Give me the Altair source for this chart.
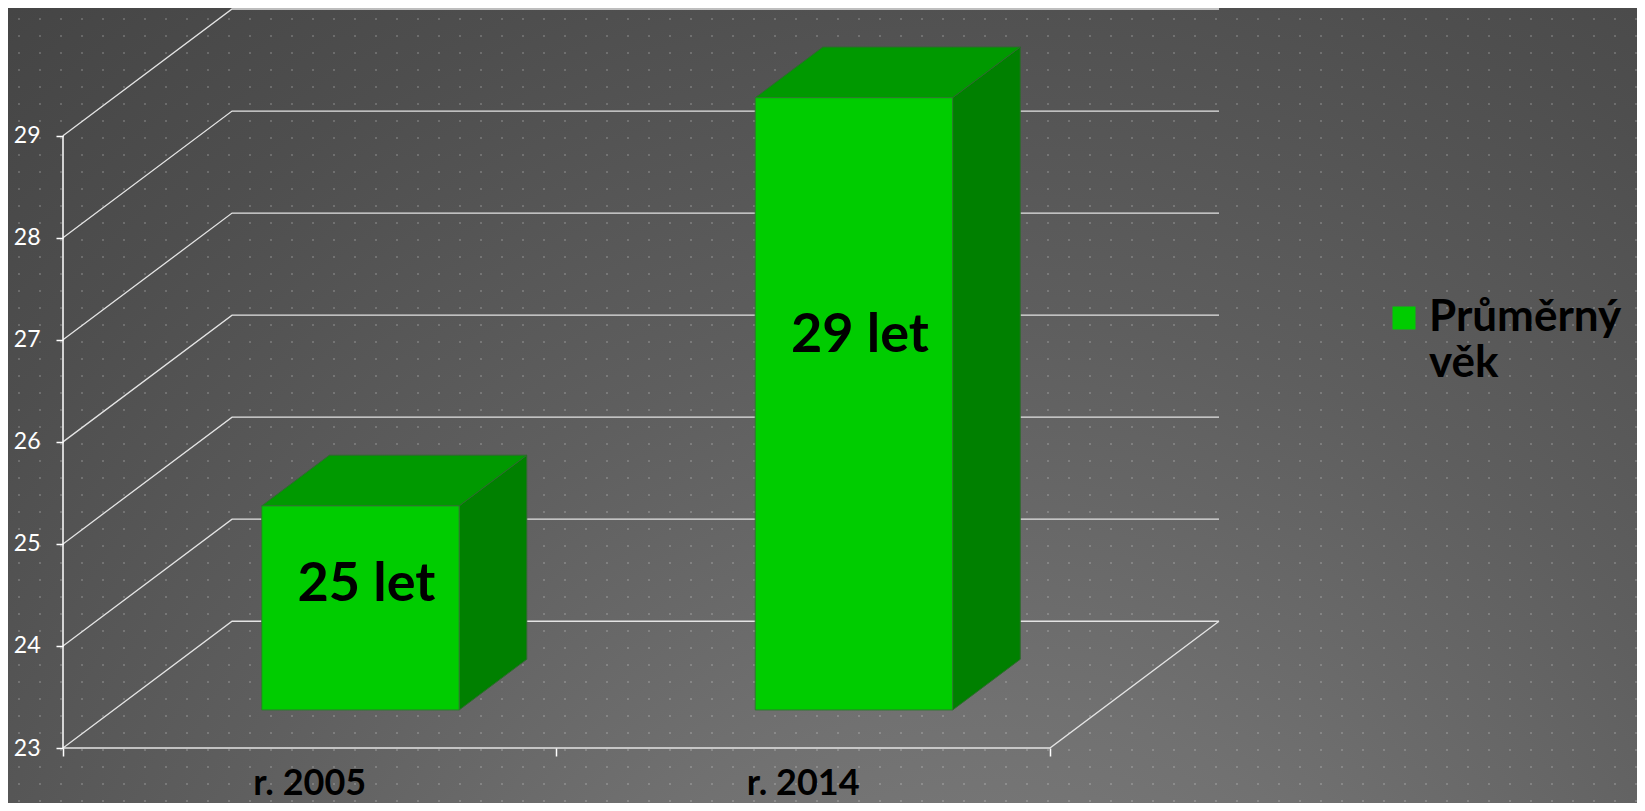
import altair as alt
import pandas as pd

# ---- data ----
categories = ["r. 2005", "r. 2014"]
values = [25, 29]
value_labels = ["25 let", "29 let"]
y_ticks = [23, 24, 25, 26, 27, 28, 29]
series_name = "Průměrný věk"

# ---- 3D projection settings (style) ----
Y_MIN = 23
DX = 0.3426     # back-wall shift in category units
DY = 1.242      # back-wall shift in value units
D0, D1 = 0.3, 0.7
BAR_W = 0.4
N = len(categories)
X_MAX = N + DX
Y_MAX = max(y_ticks) + DY
W, H = 1156, 739
PAD = {"left": 55, "top": 1, "right": 418, "bottom": 55}
PPX = W / X_MAX
PPY = H / (Y_MAX - Y_MIN)

xs = alt.Scale(domain=[0, X_MAX], nice=False, zero=False)
ys = alt.Scale(domain=[Y_MIN, Y_MAX], nice=False, zero=False)
ax_x = alt.Axis(
    values=list(range(N + 1)), labels=False, tickSize=8, tickColor="#ffffff",
    tickWidth=1.5, domain=False, grid=False, title=None, zindex=2)
ax_y = alt.Axis(
    values=y_ticks, tickSize=7, tickColor="#ffffff", tickWidth=1.5,
    labelColor="#ffffff", labelFont="Lato", labelFontSize=23, labelPadding=16,
    domain=False, grid=False, title=None, zindex=2)

# grid / wall lines
grid_rows = []
for v in y_ticks:
    grid_rows += [
        {"g": f"g{v}", "o": 0, "x": 0, "y": v},
        {"g": f"g{v}", "o": 1, "x": DX, "y": v + DY},
        {"g": f"g{v}", "o": 2, "x": N + DX, "y": v + DY},
    ]
grid_rows += [
    {"g": "floor", "o": 0, "x": 0, "y": Y_MIN},
    {"g": "floor", "o": 1, "x": N, "y": Y_MIN},
    {"g": "floor", "o": 2, "x": N + DX, "y": Y_MIN + DY},
]
grid_df = pd.DataFrame(grid_rows)

# bars
ddx = (D1 - D0) * DX
ddy = (D1 - D0) * DY
front_rows, top_rows, side_rows, lab_rows = [], [], [], []
for i, (c, v, lab) in enumerate(zip(categories, values, value_labels)):
    xl = i + (1 - BAR_W) / 2 + D0 * DX
    xr = xl + BAR_W
    yb = Y_MIN + D0 * DY
    yt = v + D0 * DY
    front_rows.append({"c": c, "x": xl, "x2": xr, "y": yb, "y2": yt, "s": series_name})
    top_rows += [
        {"c": c, "x": xl, "y": yt, "y2": yt},
        {"c": c, "x": xl + ddx, "y": yt, "y2": yt + ddy},
        {"c": c, "x": xr, "y": yt, "y2": yt + ddy},
        {"c": c, "x": xr + ddx, "y": yt + ddy, "y2": yt + ddy},
    ]
    side_rows += [
        {"c": c, "x": xr, "y": yb, "y2": yt},
        {"c": c, "x": xr + ddx, "y": yb + ddy, "y2": yt + ddy},
    ]
    lab_rows.append({"c": c, "t": lab, "x": xl + BAR_W / 2, "y": yb + 0.61 * (yt - yb)})
front_df = pd.DataFrame(front_rows)
top_df = pd.DataFrame(top_rows)
side_df = pd.DataFrame(side_rows)
lab_df = pd.DataFrame(lab_rows)
cat_df = pd.DataFrame({"c": categories, "x": [i + 0.5 for i in range(N)], "y": [Y_MIN] * N})
axis_df = pd.DataFrame({"x": [0], "y": [Y_MIN], "y2": [max(y_ticks)]})

# background
one = pd.DataFrame({"k": [0]})
bg = alt.Chart(one).mark_rect(
    fill={
        "gradient": "radial",
        "x1": 0.6, "y1": 0.97, "r1": 0,
        "x2": 0.6, "y2": 0.97, "r2": 0.95,
        "stops": [
            {"offset": 0, "color": "#838383"},
            {"offset": 0.3, "color": "#717171"},
            {"offset": 0.55, "color": "#5e5e5e"},
            {"offset": 0.8, "color": "#4e4e4e"},
            {"offset": 1, "color": "#444444"},
        ],
    }
).encode(
    x=alt.value(-PAD["left"]), x2=alt.value(W + PAD["right"]),
    y=alt.value(-PAD["top"]), y2=alt.value(H + PAD["bottom"]),
)

# dot texture
NX, NY = 78, 48
dots = alt.Chart(alt.sequence(0, NX * NY, as_="i")).transform_calculate(
    cx=f"((datum.i % {NX}) * 21 + 19.3 - 63.3) / {PPX}",
    cy=f"{Y_MAX} - (floor(datum.i / {NX}) * 17 + 2.3 - 9.3) / {PPY}",
).mark_square(size=4, color="#ffffff", opacity=0.18, strokeWidth=0).encode(
    x=alt.X("cx:Q", scale=xs, axis=ax_x),
    y=alt.Y("cy:Q", scale=ys, axis=ax_y),
)

grid = alt.Chart(grid_df).mark_line(color="#e4e4e4", strokeWidth=1.3).encode(
    x=alt.X("x:Q", scale=xs, axis=ax_x),
    y=alt.Y("y:Q", scale=ys, axis=ax_y),
    detail="g:N",
    order="o:Q",
)

yaxis_line = alt.Chart(axis_df).mark_rule(color="#ffffff", strokeWidth=1.5).encode(
    x=alt.X("x:Q", scale=xs, axis=ax_x),
    y=alt.Y("y:Q", scale=ys, axis=ax_y),
    y2="y2:Q",
)

side = alt.Chart(side_df).mark_area(
    orient="vertical", fill="#008000", stroke="#2f6a2f", strokeWidth=1
).encode(
    x=alt.X("x:Q", scale=xs, axis=ax_x),
    y=alt.Y("y:Q", scale=ys, axis=ax_y),
    y2="y2:Q",
    detail="c:N",
)

top = alt.Chart(top_df).mark_area(
    orient="vertical", fill="#009900", stroke="#2f6a2f", strokeWidth=1
).encode(
    x=alt.X("x:Q", scale=xs, axis=ax_x),
    y=alt.Y("y:Q", scale=ys, axis=ax_y),
    y2="y2:Q",
    detail="c:N",
)

front = alt.Chart(front_df).mark_rect(stroke="#2f7a2f", strokeWidth=1).encode(
    x=alt.X("x:Q", scale=xs, axis=ax_x),
    x2="x2:Q",
    y=alt.Y("y:Q", scale=ys, axis=ax_y),
    y2="y2:Q",
    color=alt.Color(
        "s:N",
        scale=alt.Scale(domain=[series_name], range=["#00cc00"]),
        legend=alt.Legend(
            orient="none", legendX=1319, legendY=287, title=None,
            symbolType="square", symbolSize=529, symbolStrokeWidth=0,
            symbolOpacity=1,
            labelFont="Lato", labelFontWeight="bold", labelFontSize=44,
            labelColor="#000000", labelLimit=400, labelOffset=3,
            labelExpr="['Průměrný', 'věk']", labelBaseline="middle", padding=0,
        ),
    ),
)

labels = alt.Chart(lab_df).mark_text(
    font="Lato", fontWeight="bold", fontSize=54, color="#000000",
    baseline="middle", align="center", dx=6,
).encode(
    x=alt.X("x:Q", scale=xs, axis=ax_x),
    y=alt.Y("y:Q", scale=ys, axis=ax_y),
    text="t:N",
)

cat_labels = alt.Chart(cat_df).mark_text(
    font="Lato", fontWeight="bold", fontSize=36, color="#000000",
    baseline="alphabetic", align="center", dy=47,
).encode(
    x=alt.X("x:Q", scale=xs, axis=ax_x),
    y=alt.Y("y:Q", scale=ys, axis=ax_y),
    text="c:N",
)

chart = alt.layer(
    bg, dots, grid, yaxis_line, side, top, front, labels, cat_labels
).properties(
    width=W, height=H, padding=PAD,
    autosize=alt.AutoSizeParams(type="none"),
    background="#474747",
).configure_view(strokeWidth=0)

chart.save("out.html", embed_options={"renderer": "svg", "actions": False})
